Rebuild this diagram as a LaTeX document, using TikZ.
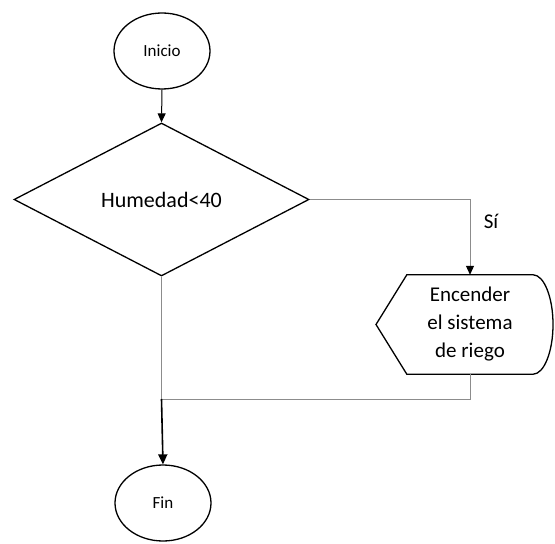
\documentclass[tikz,border=0pt]{standalone}
\usepackage{fontspec}
\setmainfont{Carlito}
\usetikzlibrary{arrows.meta,shapes.geometric}

\definecolor{linegray}{HTML}{8C8C8C}

\begin{document}
\begin{tikzpicture}[x=1bp,y=-1bp,
  terminal/.style={ellipse,draw=black,line width=1.3bp,inner sep=0pt,
    minimum width=96bp,minimum height=76bp,font=\fontsize{17bp}{20bp}\selectfont},
  decision/.style={diamond,draw=black,line width=1.3bp,inner sep=0pt,
    minimum width=295bp,minimum height=153bp,font=\fontsize{22bp}{26bp}\selectfont},
  displaytext/.style={inner sep=0pt,minimum width=126bp,minimum height=99bp,
    align=center,font=\fontsize{21bp}{28bp}\selectfont},
  outline/.style={draw=black,line width=1.3bp,line join=miter},
  flow/.style={draw=black,line width=1bp,-{Triangle[width=8bp,length=9bp]}},
  mainflow/.style={draw=black,line width=1.6bp,-{Triangle[width=9bp,length=10bp]}},
  branch/.style={draw=linegray,line width=1bp},
  branchflow/.style={branch,-{Triangle[width=8bp,length=9bp,fill=black,color=black]}},
  tag/.style={font=\fontsize{21bp}{24bp}\selectfont}
]
\useasboundingbox (0,0) rectangle (555,544);

% nodes
\node[terminal] (start) at (162,51) {Inicio};
\node[decision] (dec) at (161.5,199.5) {Humedad<40};
\node[displaytext] (act) at (470,324.5) {Encender\\el sistema\\de riego};
\node[terminal] (end) at (163,503) {Fin};
\coordinate (join) at (dec.south |- 0,399);

% display symbol around the action text
\draw[outline] (act.north west) -- (act.north east)
  .. controls (544,275) and (553,297.2) .. (553,324.5)
  .. controls (553,351.8) and (544,374) .. (act.south east)
  -- (act.south west) -- (376,324.5) -- cycle;

% connectors
\draw[flow] (start.south) -- (dec.north);
\draw[branchflow] (dec.east) -| (act.north);
\node[tag] (yes) at (491,221) {Sí};
\draw[branch] (act.south) |- (join);
\draw[branch] (dec.south) -- (join);
\draw[mainflow] (join) -- (end.north);
\end{tikzpicture}
\end{document}
